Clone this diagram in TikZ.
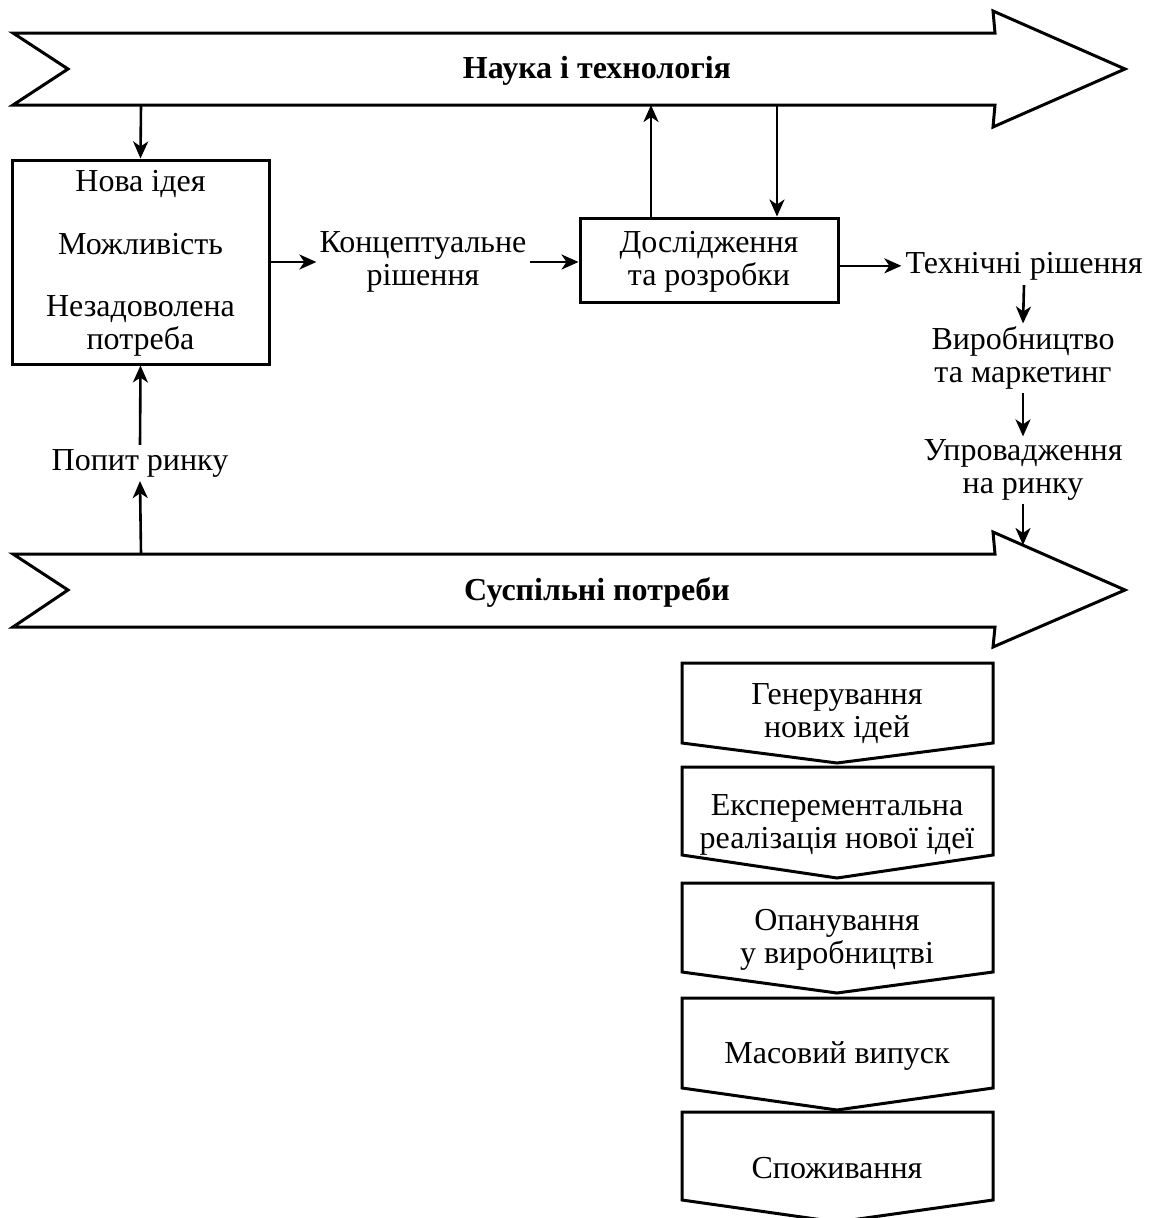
\documentclass[tikz,border=0pt]{standalone}
\usepackage{fontspec}
\setmainfont{Liberation Serif}
\usetikzlibrary{arrows.meta}
\begin{document}
\begin{tikzpicture}[x=1pt,y={(0,-1pt)},
  outl/.style={line width=3pt, line join=miter},
  arr/.style={line width=2.6pt, -{Stealth[length=17pt,width=15pt,inset=5pt]}},
  txt/.style={align=center, inner sep=0pt, font=\fontsize{32}{33}\selectfont},
  btxt/.style={inner sep=0pt, font=\fontsize{32}{33}\selectfont\bfseries},
  boxn/.style={draw, line width=3pt, inner sep=0pt, align=center, font=\fontsize{32}{33}\selectfont}]
\useasboundingbox (0,0) rectangle (1152,1218);
% Science & technology arrow
\draw[outl] (13,33) -- (995,33) -- (993,11) -- (1125,69) -- (993,127) -- (995,105) -- (13,105) -- (68,69) -- cycle;
\node[btxt, anchor=base] (sci) at (597,78) {Наука і технологія};
\coordinate (sciA) at (141,105);
\coordinate (sciB) at (651,105);
\coordinate (sciC) at (777,105);
% Social needs arrow
\draw[outl] (13,554) -- (995,554) -- (993,532) -- (1125,590) -- (993,647) -- (995,627) -- (13,627) -- (68,590) -- cycle;
\node[btxt, anchor=base] (soc) at (597,600) {Суспільні потреби};
\coordinate (socA) at (141,554);
\coordinate (socB) at (1023,545);
% Left box
\node[boxn, minimum width=257pt, minimum height=204pt] (idea) at (140.5,262) {};
\node[txt, anchor=base] (idea1) at (140.5,191) {Нова ідея};
\node[txt, anchor=base] (idea2) at (140.5,254) {Можливість};
\node[txt] (idea3) at (140.5,326) {Незадоволена\\потреба};
% Concept
\node[txt, inner xsep=3pt] (concept) at (423,262) {Концептуальне\\рішення};
% R&D box
\node[boxn, minimum width=258pt, minimum height=84pt] (rd) at (709,260) {};
\node[txt] (rdtext) at (709,262) {Дослідження\\та розробки};
% right column
\node[txt, anchor=base, inner xsep=4pt] (tech) at (1024,273) {Технічні рішення};
\node[txt, inner ysep=3pt] (prod) at (1023,358) {Виробництво\\та маркетинг};
\node[txt, inner ysep=3pt] (impl) at (1023,470) {Упровадження\\на ринку};
% demand
\node[txt, anchor=base, inner ysep=4pt] (demand) at (140,470) {Попит ринку};
% connectors
\draw[arr] (sciA) -- (idea.north);
\draw[arr] (idea.east) -- (concept.west);
\draw[arr] (concept.east) -- (rd.west |- concept.east);
\draw[arr] (rd.north -| sciB) -- (sciB);
\draw[arr] (sciC) -- (rd.north -| sciC);
\draw[arr] (rd.east |- tech.west) -- (tech.west);
\draw[arr] (tech.south) ++(0,5) -- (prod.north);
\draw[arr] (prod.south) -- (impl.north);
\draw[arr] (impl.south) -- (socB);
\draw[arr] (socA) -- (demand.south);
\draw[arr] (demand.north) -- (idea.south);
% chevrons
\draw[outl] (682,663) -- (993,663) -- (993,743) -- (837,763) -- (682,743) -- cycle;
\node[txt] (c1) at (837,714) {Генерування\\нових ідей};
\draw[outl] (682,767) -- (993,767) -- (993,855) -- (837,878) -- (682,855) -- cycle;
\node[txt] (c2) at (837,825) {Експерементальна\\реалізація нової ідеї};
\draw[outl] (682,883) -- (993,883) -- (993,972) -- (837,993) -- (682,972) -- cycle;
\node[txt] (c3) at (837,940) {Опанування\\у виробництві};
\draw[outl] (682,998) -- (993,998) -- (993,1088) -- (837,1110) -- (682,1088) -- cycle;
\node[txt, anchor=base] (c4) at (837,1063) {Масовий випуск};
\draw[outl] (682,1112) -- (993,1112) -- (993,1200) -- (837,1222) -- (682,1200) -- cycle;
\node[txt, anchor=base] (c5) at (837,1178) {Споживання};
\end{tikzpicture}
\end{document}
